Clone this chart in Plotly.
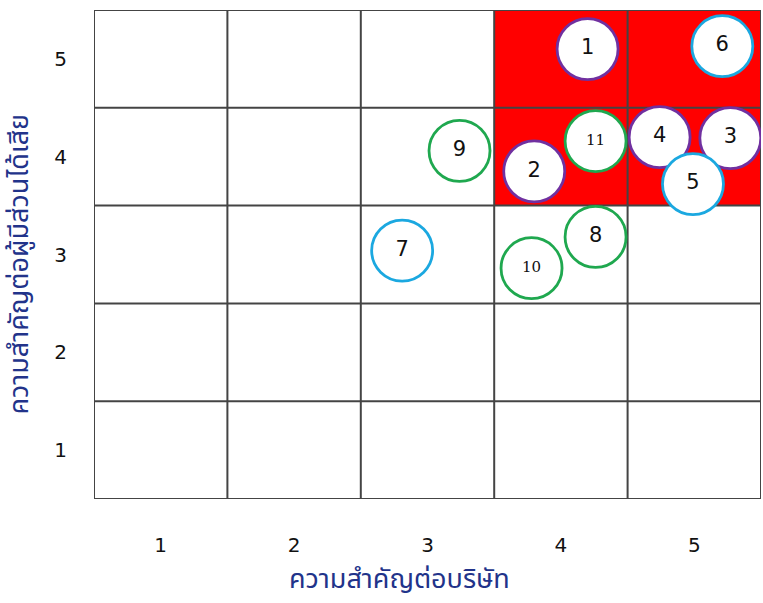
import plotly.graph_objects as go

# Risk items: number, importance to company (x), importance to stakeholders (y), group
item_ids = ["1", "2", "3", "4", "5", "6", "7", "8", "9", "10", "11"]
company_score = [4.20, 3.80, 5.27, 4.74, 4.99, 5.21, 2.81, 4.26, 3.24, 3.78, 4.26]
stakeholder_score = [5.10, 3.85, 4.19, 4.20, 3.72, 5.13, 3.04, 3.18, 4.06, 2.86, 4.16]
item_group = ["purple", "purple", "purple", "purple", "cyan", "cyan", "cyan",
              "green", "green", "green", "green"]

group_colors = {"purple": "#7030A0", "cyan": "#1BA8E0", "green": "#1FA84F"}

# Scale levels and the highlighted (high-priority) cells
levels = [1, 2, 3, 4, 5]
tick_labels = ["1", "2", "3", "4", "5"]
hot_cells = [(4, 5), (5, 5), (4, 4), (5, 4)]

x_title = "ความสำคัญต่อบริษัท"
y_title = "ความสำคัญต่อผู้มีส่วนได้เสีย"

thai_font = "Noto Sans Thai, Noto Sans, Tahoma, sans-serif"
title_color = "#22338A"

fig = go.Figure()

# red background for high-priority cells
for cx, cy in hot_cells:
    fig.add_shape(type="rect", x0=cx - 0.5, x1=cx + 0.5, y0=cy - 0.5, y1=cy + 0.5,
                  fillcolor="#FF0000", line_width=0, layer="below")

# grid lines between cells
bounds = [v - 0.5 for v in levels] + [levels[-1] + 0.5]
for b in bounds:
    fig.add_shape(type="line", x0=b, x1=b, y0=bounds[0], y1=bounds[-1],
                  line=dict(color="#444444", width=2), layer="between")
    fig.add_shape(type="line", x0=bounds[0], x1=bounds[-1], y0=b, y1=b,
                  line=dict(color="#444444", width=2), layer="between")

font_families = ["DejaVu Serif" if len(t) > 1 else "DejaVu Sans" for t in item_ids]
font_sizes = [15 if len(t) > 1 else 21 for t in item_ids]

fig.add_trace(go.Scatter(
    x=company_score,
    y=stakeholder_score,
    mode="markers+text",
    text=item_ids,
    textposition="middle center",
    textfont=dict(family=font_families, size=font_sizes, color="#111111"),
    marker=dict(size=61, color="white",
                line=dict(color=[group_colors[g] for g in item_group], width=2.8)),
    hoverinfo="skip",
    showlegend=False,
))

axis_common = dict(
    range=[bounds[0], bounds[-1]],
    tickvals=levels,
    ticktext=tick_labels,
    showgrid=False,
    zeroline=False,
    showline=False,
    ticks="outside",
    tickcolor="rgba(0,0,0,0)",
    tickfont=dict(family="DejaVu Sans", size=20, color="#111111"),
    fixedrange=True,
)

fig.update_xaxes(**axis_common, ticklen=28)
fig.update_yaxes(**axis_common, ticklen=22)

fig.add_annotation(text=x_title, xref="paper", yref="paper", x=0.458, y=-0.165,
                   xanchor="center", yanchor="middle", showarrow=False,
                   font=dict(family=thai_font, size=27, color=title_color))
fig.add_annotation(text=y_title, xref="paper", yref="paper", x=-0.112, y=0.48,
                   xanchor="center", yanchor="middle", showarrow=False, textangle=-90,
                   font=dict(family=thai_font, size=27, color=title_color))

fig.update_layout(
    width=763,
    height=603,
    margin=dict(l=94, r=2, t=10, b=104),
    paper_bgcolor="white",
    plot_bgcolor="white",
)

fig.write_html("out.html")
